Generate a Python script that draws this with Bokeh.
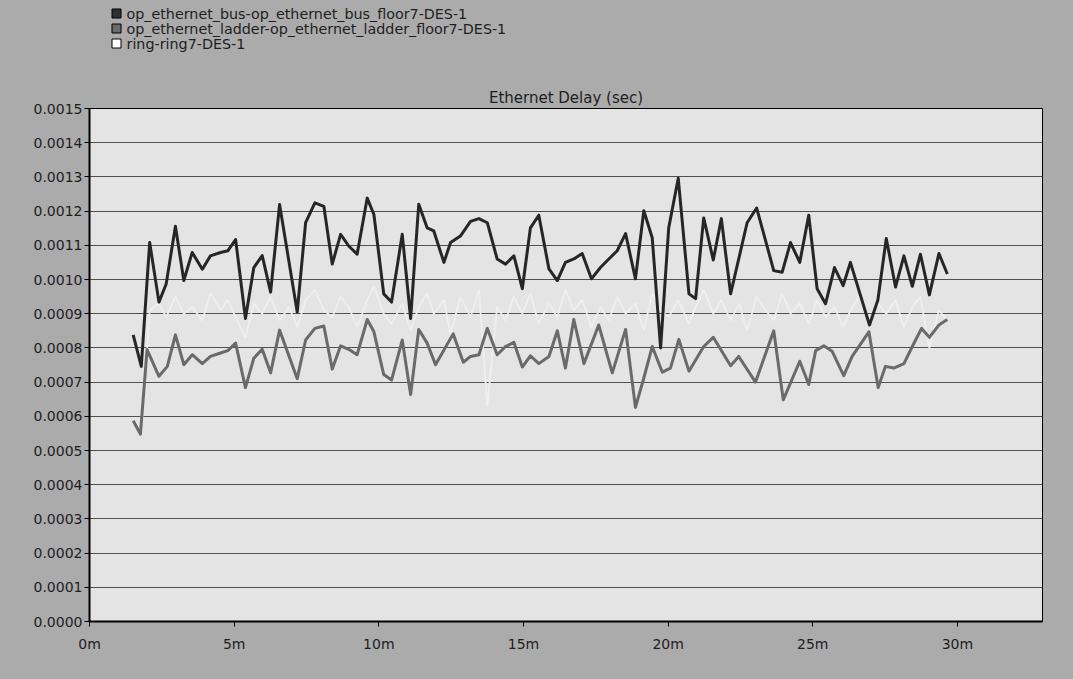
from bokeh.plotting import figure
from bokeh.models import FixedTicker, PrintfTickFormatter, Range1d
from bokeh.layouts import column
from bokeh.core.properties import value
from bokeh.embed import file_html
from bokeh.resources import INLINE

# ---------------- data ----------------
series_names = [
    "op_ethernet_bus-op_ethernet_bus_floor7-DES-1",
    "op_ethernet_ladder-op_ethernet_ladder_floor7-DES-1",
    "ring-ring7-DES-1",
]

bus_t = [1.51, 1.79, 2.08, 2.40, 2.65, 2.97, 3.26, 3.55, 3.90, 4.18, 4.53, 4.78, 5.05, 5.39,
         5.68, 5.97, 6.26, 6.57, 7.18, 7.47, 7.79, 8.10, 8.39, 8.68, 8.96, 9.25, 9.60, 9.83,
         10.17, 10.44, 10.81, 11.10, 11.38, 11.67, 11.90, 12.25, 12.48, 12.82, 13.17, 13.46,
         13.75, 14.09, 14.38, 14.67, 14.96, 15.24, 15.53, 15.88, 16.17, 16.45, 16.74, 17.03,
         17.35, 17.66, 17.95, 18.24, 18.53, 18.87, 19.16, 19.45, 19.74, 20.02, 20.35, 20.72,
         20.95, 21.23, 21.56, 21.84, 22.16, 22.73, 23.06, 23.37, 23.65, 23.94, 24.23, 24.55,
         24.86, 25.15, 25.44, 25.75, 26.05, 26.30, 26.96, 27.25, 27.54, 27.86, 28.15, 28.44,
         28.72, 29.03, 29.36, 29.65]
bus_v = [0.000838, 0.000746, 0.001108, 0.000934, 0.000987, 0.001156, 0.000997, 0.001079,
         0.001030, 0.001069, 0.001079, 0.001084, 0.001117, 0.000886, 0.001035, 0.001070,
         0.000963, 0.001219, 0.000905, 0.001166, 0.001224, 0.001214, 0.001045, 0.001132,
         0.001098, 0.001074, 0.001238, 0.001190, 0.000958, 0.000934, 0.001132, 0.000886,
         0.001220, 0.001151, 0.001142, 0.001050, 0.001108, 0.001127, 0.001170, 0.001178,
         0.001166, 0.001060, 0.001045, 0.001069, 0.000973, 0.001151, 0.001188, 0.001031,
         0.000997, 0.001050, 0.001060, 0.001076, 0.001002, 0.001035, 0.001060, 0.001084,
         0.001134, 0.001002, 0.001201, 0.001122, 0.000800, 0.001151, 0.001296, 0.000958,
         0.000944, 0.001180, 0.001057, 0.001178, 0.000958, 0.001166, 0.001209, 0.001113,
         0.001026, 0.001021, 0.001108, 0.001050, 0.001188, 0.000973, 0.000929, 0.001035,
         0.000982, 0.001050, 0.000867, 0.000940, 0.001120, 0.000978, 0.001069, 0.000980,
         0.001074, 0.000955, 0.001076, 0.001016]

ladder_t = [1.51, 1.76, 1.99, 2.40, 2.69, 2.97, 3.26, 3.55, 3.90, 4.18, 4.53, 4.78, 5.05,
            5.39, 5.68, 5.97, 6.26, 6.57, 7.18, 7.47, 7.79, 8.10, 8.39, 8.68, 8.96, 9.25,
            9.60, 9.83, 10.17, 10.44, 10.81, 11.10, 11.38, 11.67, 11.96, 12.57, 12.92, 13.17,
            13.46, 13.75, 14.09, 14.38, 14.67, 14.96, 15.24, 15.53, 15.88, 16.17, 16.45,
            16.74, 17.09, 17.60, 18.07, 18.53, 18.87, 19.16, 19.45, 19.80, 20.08, 20.37,
            20.72, 21.23, 21.56, 22.16, 22.44, 23.02, 23.65, 23.98, 24.55, 24.86, 25.10,
            25.38, 25.67, 26.07, 26.36, 26.94, 27.26, 27.51, 27.80, 28.15, 28.44, 28.76,
            29.03, 29.36, 29.65]
ladder_v = [0.000587, 0.000548, 0.000795, 0.000717, 0.000746, 0.000838, 0.000751, 0.000780,
            0.000754, 0.000775, 0.000785, 0.000792, 0.000814, 0.000684, 0.000770, 0.000796,
            0.000727, 0.000852, 0.000710, 0.000823, 0.000857, 0.000864, 0.000738, 0.000806,
            0.000796, 0.000780, 0.000883, 0.000847, 0.000722, 0.000706, 0.000823, 0.000664,
            0.000854, 0.000814, 0.000751, 0.000841, 0.000758, 0.000775, 0.000780, 0.000857,
            0.000780, 0.000804, 0.000816, 0.000744, 0.000777, 0.000754, 0.000775, 0.000850,
            0.000741, 0.000883, 0.000754, 0.000867, 0.000727, 0.000854, 0.000626, 0.000712,
            0.000804, 0.000729, 0.000741, 0.000825, 0.000732, 0.000804, 0.000831, 0.000748,
            0.000775, 0.000700, 0.000850, 0.000648, 0.000761, 0.000693, 0.000792, 0.000806,
            0.000790, 0.000719, 0.000775, 0.000847, 0.000684, 0.000746, 0.000741, 0.000754,
            0.000804, 0.000857, 0.000831, 0.000867, 0.000883]

ring_t = [1.51, 1.79, 2.08, 2.40, 2.65, 2.97, 3.26, 3.55, 3.90, 4.18, 4.53, 4.78, 5.05, 5.39,
          5.68, 5.97, 6.26, 6.57, 6.90, 7.18, 7.47, 7.79, 8.10, 8.39, 8.68, 8.96, 9.25, 9.60,
          9.83, 10.17, 10.44, 10.81, 11.10, 11.38, 11.67, 11.90, 12.25, 12.48, 12.82, 13.17,
          13.46, 13.75, 14.09, 14.38, 14.67, 14.96, 15.24, 15.53, 15.88, 16.17, 16.45, 16.74,
          17.03, 17.35, 17.66, 17.95, 18.24, 18.53, 18.87, 19.16, 19.45, 19.74, 20.02, 20.35,
          20.72, 20.95, 21.23, 21.56, 21.84, 22.16, 22.45, 22.73, 23.06, 23.37, 23.65, 23.94,
          24.23, 24.55, 24.86, 25.15, 25.44, 25.75, 26.05, 26.30, 26.60, 26.96, 27.25, 27.54,
          27.86, 28.15, 28.44, 28.72, 29.03, 29.36, 29.65]
ring_v = [0.00058, 0.00055, 0.00091, 0.00093, 0.00089, 0.00095, 0.00090, 0.00092, 0.00088,
          0.00096, 0.00091, 0.00094, 0.00089, 0.00083, 0.00093, 0.00090, 0.00095, 0.00088,
          0.00092, 0.00086, 0.00094, 0.00097, 0.00091, 0.00089, 0.00095, 0.00092, 0.00086,
          0.00094, 0.00098, 0.00090, 0.00087, 0.00093, 0.00085, 0.00092, 0.00096, 0.00090,
          0.00094, 0.00084, 0.00095, 0.00089, 0.00097, 0.00063, 0.00092, 0.00088, 0.00095,
          0.00090, 0.00096, 0.00087, 0.00093, 0.00089, 0.00097, 0.00091, 0.00094, 0.00086,
          0.00092, 0.00088, 0.00095, 0.00090, 0.00093, 0.00085, 0.00096, 0.00091, 0.00089,
          0.00094, 0.00087, 0.00092, 0.00097, 0.00090, 0.00094, 0.00088, 0.00093, 0.00085,
          0.00095, 0.00091, 0.00088, 0.00096, 0.00090, 0.00093, 0.00087, 0.00094, 0.00089,
          0.00092, 0.00086, 0.00091, 0.00095, 0.00088, 0.00093, 0.00090, 0.00094, 0.00086,
          0.00092, 0.00095, 0.00080, 0.00091, 0.00088]

x_ticks = [0, 5, 10, 15, 20, 25, 30]
x_tick_labels = ["0m", "5m", "10m", "15m", "20m", "25m", "30m"]
y_ticks = [0.0000, 0.0001, 0.0002, 0.0003, 0.0004, 0.0005, 0.0006, 0.0007, 0.0008,
           0.0009, 0.0010, 0.0011, 0.0012, 0.0013, 0.0014, 0.0015]
title_text = "Ethernet Delay (sec)"

series_colors = ["#262626", "#6a6a6a", "#efefef"]
swatch_fills = ["#303030", "#6a6a6a", "#ffffff"]

FONT = "DejaVu Sans"
TXT = "#1e1e1e"
OUTER = "#ababab"
W = 1073
LEG_H = 62
ML, MR = 89, 31

# ---------------- legend strip (top) ----------------
leg = figure(width=W, height=LEG_H, output_backend="svg", toolbar_location=None,
             x_range=Range1d(ML, W - MR), y_range=Range1d(LEG_H, 0),
             min_border_left=ML, min_border_right=MR,
             min_border_top=0, min_border_bottom=0)
leg.axis.visible = False
leg.grid.visible = False
leg.background_fill_color = OUTER
leg.border_fill_color = OUTER
leg.outline_line_color = OUTER
leg.outline_line_width = 3
rows = [13 + 15 * i for i in range(len(series_names))]
leg.scatter([116] * len(rows), rows, marker="square", size=9,
            fill_color=swatch_fills, line_color="#000000", line_width=1)
leg.text([126] * len(rows), rows, text=series_names, text_font=value(FONT),
         text_font_size="14.3px", text_color=TXT, text_baseline="middle", text_align="left")

# ---------------- main chart ----------------
p = figure(width=W, height=679 - LEG_H, output_backend="svg", toolbar_location=None,
           x_range=Range1d(0, 32.94), y_range=Range1d(0, 0.0015),
           min_border_left=ML, min_border_right=MR, min_border_top=108 - LEG_H,
           min_border_bottom=58, title=title_text)

p.border_fill_color = OUTER
p.background_fill_color = "#e4e4e4"
p.outline_line_color = "#000000"
p.outline_line_width = 1

p.title.align = "center"
p.title.text_font = FONT
p.title.text_font_size = "15px"
p.title.text_font_style = "normal"
p.title.text_color = TXT
p.title.standoff = 4

p.xgrid.grid_line_color = None
p.ygrid.grid_line_color = "#505050"
p.ygrid.grid_line_width = 1
p.ygrid.ticker = FixedTicker(ticks=y_ticks)

p.yaxis.ticker = FixedTicker(ticks=y_ticks)
p.yaxis.formatter = PrintfTickFormatter(format="%.4f")
p.xaxis.ticker = FixedTicker(ticks=x_ticks)
p.xaxis.major_label_overrides = {t: l for t, l in zip(x_ticks, x_tick_labels)}

for ax in (p.xaxis[0], p.yaxis[0]):
    ax.axis_line_color = "#000000"
    ax.axis_line_width = 2
    ax.major_tick_line_color = "#000000"
    ax.major_tick_in = 0
    ax.major_tick_out = 5
    ax.minor_tick_line_color = None
    ax.major_label_text_font = FONT
    ax.major_label_text_font_size = "14px"
    ax.major_label_text_color = TXT
p.yaxis.major_label_standoff = 2
p.xaxis.major_label_standoff = 9

p.line(ring_t, ring_v, line_color=series_colors[2], line_width=1.8)
p.line(ladder_t, ladder_v, line_color=series_colors[1], line_width=3, line_join="round")
p.line(bus_t, bus_v, line_color=series_colors[0], line_width=3, line_join="round")

layout = column(leg, p, spacing=0)
html = file_html(layout, INLINE)
html = html.replace("</head>", "<style>html, body { background: %s; }</style></head>" % OUTER, 1)
open("out.html", "w").write(html)
